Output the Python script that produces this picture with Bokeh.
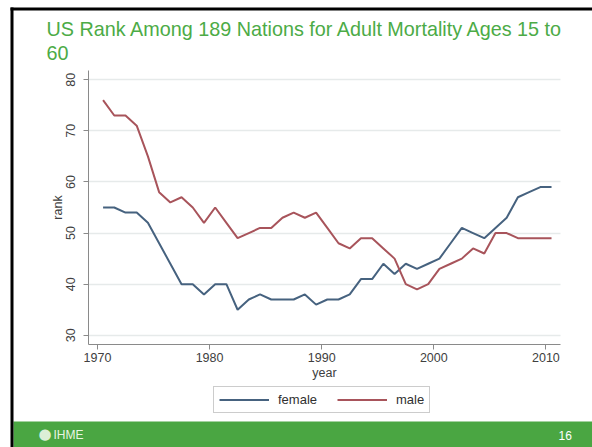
from bokeh.plotting import figure
from bokeh.models import Range1d, FixedTicker, Label, BoxAnnotation, Legend, LegendItem
from bokeh.embed import file_html
from bokeh.resources import INLINE

# ---- data ----
years = [1970.5, 1971.5, 1972.5, 1973.5, 1974.5, 1975.5, 1976.5, 1977.5, 1978.5, 1979.5,
         1980.5, 1981.5, 1982.5, 1983.5, 1984.5, 1985.5, 1986.5, 1987.5, 1988.5, 1989.5,
         1990.5, 1991.5, 1992.5, 1993.5, 1994.5, 1995.5, 1996.5, 1997.5, 1998.5, 1999.5,
         2000.5, 2001.5, 2002.5, 2003.5, 2004.5, 2005.5, 2006.5, 2007.5, 2008.5, 2009.5,
         2010.5]
female = [55, 55, 54, 54, 52, 48, 44, 40, 40, 38,
          40, 40, 35, 37, 38, 37, 37, 37, 38, 36,
          37, 37, 38, 41, 41, 44, 42, 44, 43, 44,
          45, 48, 51, 50, 49, 51, 53, 57, 58, 59,
          59]
male = [76, 73, 73, 71, 65, 58, 56, 57, 55, 52,
        55, 52, 49, 50, 51, 51, 53, 54, 53, 54,
        51, 48, 47, 49, 49, 47, 45, 40, 39, 40,
        43, 44, 45, 47, 46, 50, 50, 49, 49, 49,
        49]
x_ticks = [1970, 1980, 1990, 2000, 2010]
y_ticks = [30, 40, 50, 60, 70, 80]
x_bounds = (1969.2, 2011.3)
y_bounds = (28.2, 81.8)
series_names = ["female", "male"]
title_lines = ["US Rank Among 189 Nations for Adult Mortality Ages 15 to", "60"]
footer_left = "IHME"
footer_right = "16"

FONT = "Liberation Sans"
GREEN = "#4aa642"
TITLE_GREEN = "#4cab46"
W, H = 592, 447
# chart area inside the canvas (pixels)
CL, CR, CT, CB = 88, 560, 70, 344

kx = (CR - CL) / (x_bounds[1] - x_bounds[0])
ky = (CB - CT) / (y_bounds[1] - y_bounds[0])
xr = Range1d(x_bounds[0] - CL / kx, x_bounds[1] + (W - CR) / kx)
yr = Range1d(y_bounds[0] - (H - CB) / ky, y_bounds[1] + CT / ky)

p = figure(width=W, height=H, output_backend="svg", toolbar_location=None,
           x_range=xr, y_range=yr, min_border=0,
           background_fill_color="white", border_fill_color="white")
p.outline_line_color = None

# grid
p.xgrid.visible = False
p.ygrid.ticker = FixedTicker(ticks=y_ticks)
p.ygrid.grid_line_color = "#e6eaea"
p.ygrid.grid_line_width = 1.5
p.ygrid.bounds = y_bounds
try:
    p.ygrid.cross_bounds = x_bounds
except AttributeError:
    p.ygrid.visible = False
    p.segment(x0=x_bounds[0], x1=x_bounds[1], y0=y_ticks, y1=y_ticks,
              line_color="#e6eaea", line_width=1.5)

f_r = p.line(years, female, line_color="#46627f", line_width=2)
m_r = p.line(years, male, line_color="#a8545b", line_width=2)

for ax in (p.xaxis[0], p.yaxis[0]):
    ax.axis_line_color = "#8a8a8a"
    ax.major_tick_line_color = "#8a8a8a"
    ax.major_tick_in = 0
    ax.major_tick_out = 5
    ax.minor_tick_line_color = None
    ax.major_label_text_font = FONT
    ax.major_label_text_font_size = "12.5px"
    ax.major_label_text_color = "#404040"
    ax.axis_label_text_font = FONT
    ax.axis_label_text_font_size = "12.5px"
    ax.axis_label_text_font_style = "normal"
    ax.axis_label_text_color = "#404040"

p.xaxis.ticker = FixedTicker(ticks=x_ticks)
p.yaxis.ticker = FixedTicker(ticks=y_ticks)
p.xaxis.fixed_location = y_bounds[0]
p.yaxis.fixed_location = x_bounds[0]
p.xaxis.bounds = x_bounds
p.yaxis.bounds = y_bounds
p.xaxis.axis_label = "year"
p.yaxis.axis_label = "rank"
p.yaxis.major_label_orientation = "vertical"
p.xaxis.major_label_standoff = 3
p.xaxis.axis_label_standoff = 1
p.yaxis.major_label_standoff = 8
p.yaxis.axis_label_standoff = -1

legend = Legend(items=[LegendItem(label=series_names[0], renderers=[f_r]),
                       LegendItem(label=series_names[1], renderers=[m_r])],
                orientation="horizontal", location=(213, H - 413),
                border_line_color="#9a9a9a", border_line_width=1,
                label_text_font=FONT, label_text_font_size="13px", label_text_color="#303030",
                glyph_width=50, glyph_height=15, label_standoff=9, spacing=20,
                padding=5, margin=0)
p.add_layout(legend, "center")

# ---- slide decorations (screen units, origin at the canvas bottom-left) ----
def box(l, r, t, b, color):
    return BoxAnnotation(left=l, right=r, top=H - t, bottom=H - b,
                         left_units="screen", right_units="screen",
                         top_units="screen", bottom_units="screen",
                         fill_color=color, fill_alpha=1, line_color=None, level="overlay")

p.add_layout(box(13, W, 421, H, GREEN))
p.add_layout(box(10, 13, 7, H, "black"))
p.add_layout(box(10, W, 7, 10, "black"))

def label(x, y, text, size, color, font=FONT):
    return Label(x=x, y=H - y, x_units="screen", y_units="screen", text=text,
                 text_font=font, text_font_size=size, text_color=color,
                 text_baseline="middle", text_align="left", level="overlay")

p.add_layout(label(46, 28.5, title_lines[0], "19.8px", TITLE_GREEN))
p.add_layout(label(46, 52.5, title_lines[1], "19.8px", TITLE_GREEN))
p.add_layout(label(38, 433, "\u25cf", "15px", "#dcefd6", font="DejaVu Sans"))
p.add_layout(label(53, 434, footer_left, "12px", "#e9f5e3"))
p.add_layout(label(558, 435, footer_right, "12px", "white"))

open("out.html", "w").write(file_html(p, INLINE))
